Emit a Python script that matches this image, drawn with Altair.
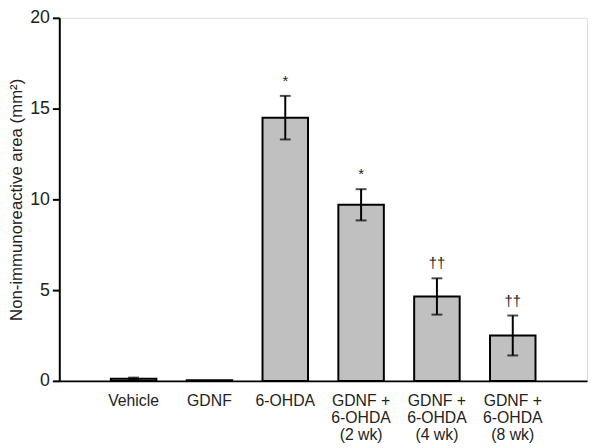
import altair as alt
import pandas as pd

groups = ["Vehicle", "GDNF", "6-OHDA", "GDNF +\n6-OHDA\n(2 wk)", "GDNF +\n6-OHDA\n(4 wk)", "GDNF +\n6-OHDA\n(8 wk)"]
means = [0.12, 0.03, 14.5, 9.7, 4.65, 2.5]
errors = [0.06, 0.0, 1.2, 0.86, 1.0, 1.1]
marks = ["", "", "*", "*", "††", "††"]

df = pd.DataFrame({"group": groups, "mean": means, "err": errors, "mark": marks})
df["lo"] = df["mean"] - df["err"]
df["hi"] = df["mean"] + df["err"]

x = alt.X("group:N", sort=groups, title=None,
          scale=alt.Scale(paddingInner=0.4, paddingOuter=0.68),
          axis=alt.Axis(labelAngle=0, ticks=False, labelExpr="split(datum.label, '\\n')",
                        labelFontSize=16, labelLineHeight=17, labelPadding=12,
                        labelColor="#222", labelFont="Liberation Sans",
                        domainColor="black", domainWidth=2))
y_axis = alt.Axis(values=[0, 5, 10, 15, 20], tickSize=7, tickWidth=2, tickColor="black",
                  domainColor="black", domainWidth=2, grid=False,
                  labelFontSize=18, labelColor="#222", labelFont="Liberation Sans", labelPadding=3,
                  title="Non-immunoreactive area (mm²)", titleFontSize=17, titleFontWeight="normal",
                  titleFont="Liberation Sans", titleColor="#222", titlePadding=4)
y = alt.Y("mean:Q", scale=alt.Scale(domain=[0, 20]), axis=y_axis)

base = alt.Chart(df)
bars = base.mark_bar(color="#c0c0c0", stroke="black", strokeWidth=2).encode(x=x, y=y)
rules = base.transform_filter("datum.err > 0").mark_rule(color="black", strokeWidth=2).encode(
    x=x, y=alt.Y("lo:Q"), y2="hi:Q")
cap_lo = base.transform_filter("datum.err > 0").mark_tick(color="black", size=11, thickness=2, orient="horizontal").encode(x=x, y="lo:Q")
cap_hi = base.transform_filter("datum.err > 0").mark_tick(color="black", size=11, thickness=2, orient="horizontal").encode(x=x, y="hi:Q")
text = base.mark_text(baseline="bottom", dy=-7, fontSize=15, color="#222", font="Liberation Sans").encode(
    x=x, y="hi:Q", text="mark:N")

chart = alt.layer(bars, rules, cap_lo, cap_hi, text).properties(
    width=535, height=368,
    autosize=alt.AutoSizeParams(type="none"),
    padding={"left": 52, "top": 7, "right": 5, "bottom": 60},
).configure_view(stroke=None).configure(background="white")

chart.save("out.html", embed_options={"renderer": "svg", "actions": False})
